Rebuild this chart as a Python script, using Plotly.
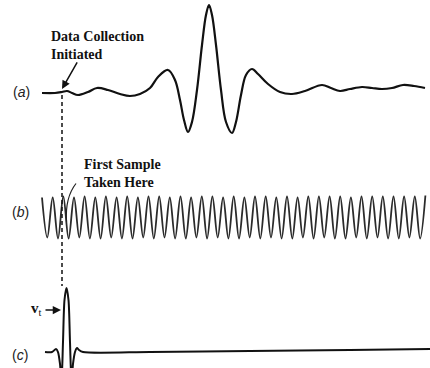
import plotly.graph_objs as go

# (a) echo waveform: time vs amplitude (arbitrary units)
a_time = [42, 55, 62, 67, 72, 78, 88, 97, 108, 120, 130, 140, 150, 158, 168, 175, 180, 184,
          188, 192, 197, 202, 206, 209, 212, 216, 221, 226, 232, 236, 241, 246, 252, 258,
          268, 280, 292, 305, 322, 331, 340, 350, 362, 372, 382, 392, 403, 414, 425]
a_amp = [-1, -1, 0, 1, -1, -3, 0, 4, 2, -2, -4, -2, 4, 15, 22, 12, -8, -28,
         -40, -30, 2, 47, 77, 87, 77, 47, 2, -30, -41, -30, -3, 17, 23, 18,
         8, 0, -2, 1, 7, 4, 1, 3, 5, 4, 3, 4, 7, 6, 4]

# (b) sampling clock: times of successive crests / troughs and their levels
b_time = [42.0, 47.3, 52.7, 58.0, 63.3, 68.6, 74.0, 79.3, 84.6, 89.9, 95.3, 100.6,
          105.9, 111.2, 116.6, 121.9, 127.2, 132.5, 137.9, 143.2, 148.5, 153.8, 159.2, 164.5,
          169.8, 175.1, 180.5, 185.8, 191.1, 196.4, 201.8, 207.1, 212.4, 217.7, 223.1, 228.4,
          233.7, 239.0, 244.4, 249.7, 255.0, 260.3, 265.7, 271.0, 276.3, 281.6, 287.0, 292.3,
          297.6, 302.9, 308.3, 313.6, 318.9, 324.2, 329.6, 334.9, 340.2, 345.5, 350.9, 356.2,
          361.5, 366.8, 372.2, 377.5, 382.8, 388.1, 393.5, 398.8, 404.1, 409.4, 414.8, 420.1,
          425.4]
b_amp = [20, -20, 20, -21, 21, -21, 20, -20, 21, -21, 20, -21, 21, -20, 20, -21,
         21, -21, 20, -20, 21, -21, 21, -20, 20, -21, 21, -21, 20, -20, 21, -21,
         21, -20, 20, -21, 21, -21, 20, -20, 21, -21, 21, -20, 20, -21, 21, -21,
         20, -20, 21, -21, 21, -20, 21, -21, 21, -21, 20, -20, 21, -21, 21, -20,
         21, -21, 21, -21, 21, -20, 21, -21, 22]

# (c) sampled transmitter pulse
c_time = [45, 52, 56, 58, 60, 61.5, 63, 64.5, 66.5, 68.5, 70, 71.5, 73, 75, 77, 79, 83,
          150, 250, 350, 430]
c_amp = [0, 0, 3, 0, -12, -30, 10, 52, 64, 52, 10, -30, -12, 0, 4, 2, 0,
         0, 1, 2, 3]

t_start = 62

fig = go.Figure()
fig.add_trace(go.Scatter(x=a_time, y=a_amp, mode='lines', yaxis='y',
                         line=dict(color='#111111', width=2.2, shape='spline', smoothing=1.0)))
fig.add_trace(go.Scatter(x=b_time, y=b_amp, mode='lines', yaxis='y2',
                         line=dict(color='#2b2b2b', width=1.8, shape='spline', smoothing=1.0)))
fig.add_trace(go.Scatter(x=c_time, y=c_amp, mode='lines', yaxis='y3',
                         line=dict(color='#111111', width=2.0, shape='spline', smoothing=0.8)))

ax_off = dict(visible=False, showgrid=False, zeroline=False, fixedrange=True)
serif = dict(family='Liberation Serif', size=14, color='#111111')
sans = dict(family='Liberation Sans', size=14, color='#222222')

fig.update_layout(
    width=430, height=368,
    margin=dict(l=0, r=0, t=0, b=0),
    paper_bgcolor='white', plot_bgcolor='white',
    showlegend=False,
    xaxis=dict(range=[0, 430], domain=[0, 1], **ax_off),
    yaxis=dict(range=[-48, 92], domain=[0.6196, 1.0], anchor='x', **ax_off),
    yaxis2=dict(range=[-42.5, 67.5], domain=[0.2935, 0.5924], anchor='x', **ax_off),
    yaxis3=dict(range=[-16, 90], domain=[0.0, 0.288], anchor='x', **ax_off),
    shapes=[
        dict(type='line', xref='x', yref='paper', x0=t_start, x1=t_start,
             y0=1 - 95 / 368, y1=1 - 286 / 368,
             line=dict(color='#111111', width=1.5, dash='4px,3px')),
        dict(type='path', xref='x', yref='y2',
             path='M 76 34 Q 65 20 66.5 -4',
             line=dict(color='#222222', width=1.2)),
    ],
    annotations=[
        dict(text='<b>Data Collection<br>Initiated</b>', xref='x', yref='y',
             x=49, y=47, xanchor='left', yanchor='middle', align='left',
             showarrow=False, font=serif),
        dict(text='', xref='x', yref='y', x=t_start, y=3, axref='x', ayref='y',
             ax=78, ay=31, showarrow=True, arrowhead=2, arrowsize=1.1,
             arrowwidth=1.5, arrowcolor='#111111'),
        dict(text='<b>First Sample<br>Taken Here</b>', xref='x', yref='y2',
             x=82, y=44, xanchor='left', yanchor='middle', align='left',
             showarrow=False, font=serif),
        dict(text='<b>v</b><sub>t</sub>', xref='x', yref='y3',
             x=36, y=43, xanchor='center', yanchor='middle',
             showarrow=False, font=dict(family='Liberation Serif', size=15, color='#111111')),
        dict(text='', xref='x', yref='y3', x=61, y=42, axref='x', ayref='y3',
             ax=44, ay=42, showarrow=True, arrowhead=2, arrowsize=1.1,
             arrowwidth=1.5, arrowcolor='#111111'),
        dict(text='(<i>a</i>)', xref='paper', yref='y', x=0.05, y=0,
             xanchor='center', yanchor='middle', showarrow=False, font=sans),
        dict(text='(<i>b</i>)', xref='paper', yref='y2', x=0.047, y=5,
             xanchor='center', yanchor='middle', showarrow=False, font=sans),
        dict(text='(<i>c</i>)', xref='paper', yref='y3', x=0.047, y=-3,
             xanchor='center', yanchor='middle', showarrow=False, font=sans),
    ],
)

fig.write_html("out.html", config=dict(displayModeBar=False),
               post_script="document.body.style.margin='0';")
